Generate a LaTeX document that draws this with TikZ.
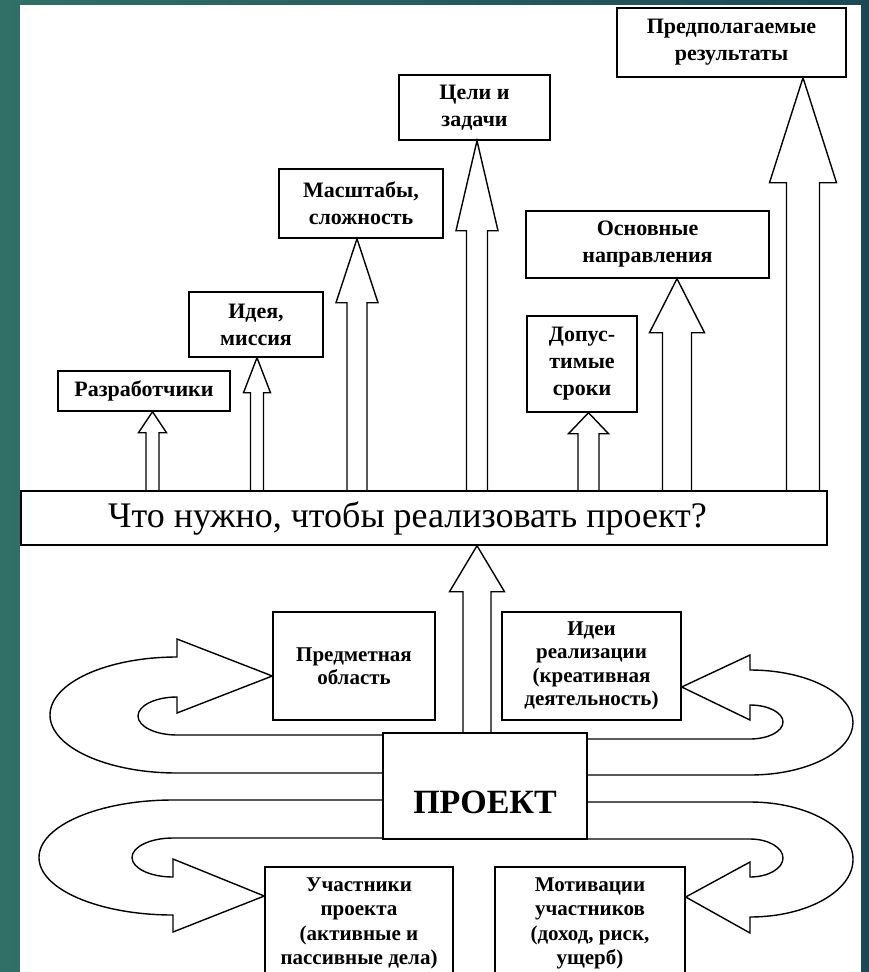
\documentclass[tikz,border=0pt]{standalone}
\usepackage{fontspec}
\setmainfont{Liberation Serif}
\usepackage{xcolor}
\usepackage{tikz}
\usetikzlibrary{calc}
\definecolor{slideleft}{RGB}{48,112,103}
\definecolor{slideright}{RGB}{27,72,86}
\tikzset{
    goalbox/.style={rectangle, draw=black, line width=1.4pt, fill=white, align=center, inner sep=2pt, font=\fontsize{22}{27}\selectfont\bfseries},
    infobox/.style={rectangle, draw=black, line width=1.4pt, fill=white, align=center, inner sep=2pt, font=\fontsize{21}{23.5}\selectfont\bfseries},
    hollow/.style={draw=black, line width=1.4pt, line join=miter}
}
\newcommand{\blockarr}[6]{%
  \path (#3,0 |- #1.north) coordinate (ab) (#3,0 |- #2.south) coordinate (at);
  \draw[hollow] ($(ab)+(-#4,0)$) -- ($(at)+(-#4,#6)$) -- ($(at)+(-#5,#6)$) -- (at)
    -- ($(at)+(#5,#6)$) -- ($(at)+(#4,#6)$) -- ($(ab)+(#4,0)$);
}

\begin{document}
\begin{tikzpicture}[x=1pt, y=-1pt,
  bar/.style={rectangle, draw=black, line width=1.4pt, fill=white, minimum width=806, minimum height=54, font=\fontsize{36}{40}\selectfont},
  projbox/.style={rectangle, draw=black, line width=1.4pt, fill=white, minimum width=204, minimum height=106, text height=55pt, text depth=0pt, font=\fontsize{34}{40}\selectfont\bfseries}]
  \useasboundingbox (0,0) rectangle (869,972);
  \fill[left color=slideleft, right color=slideright] (0,0) rectangle (869,972);
  \fill[white] (20,5) rectangle (861,972);

  \node[goalbox, minimum width=172, minimum height=40] (dev) at (144,391) {Разработчики};
  \node[goalbox, minimum width=134, minimum height=65] (idea) at (256,324.5) {Идея,\\миссия};
  \node[goalbox, minimum width=164, minimum height=69] (scale) at (361,203.5) {Масштабы,\\сложность};
  \node[goalbox, minimum width=151, minimum height=65] (goals) at (474.5,107.5) {Цели и\\задачи};
  \node[goalbox, minimum width=110, minimum height=96] (terms) at (582,364) {Допус-\\тимые\\сроки};
  \node[goalbox, minimum width=243, minimum height=67] (dirs) at (647.5,244.5) {Основные\\направления};
  \node[goalbox, minimum width=229, minimum height=69] (results) at (731.5,42.5) {Предполагаемые\\результаты};
  \node[bar] (ask) at (424,518) {Что нужно, чтобы реализовать проект?\hspace*{33pt}};
  \node[infobox, minimum width=162, minimum height=108] (subj) at (354,666) {Предметная\\область};
  \node[infobox, minimum width=179, minimum height=108] (ideas) at (591.5,666) {Идеи\\реализации\\(креативная\\деятельность)};
  \node[projbox] (proj) at (485,786) {ПРОЕКТ};
  \node[infobox, font=\fontsize{21}{24.5}\selectfont\bfseries, minimum width=188, minimum height=113] (part) at (359,923.5) {Участники\\проекта\\(активные и\\пассивные дела)};
  \node[infobox, font=\fontsize{21}{24.5}\selectfont\bfseries, minimum width=190, minimum height=113] (motiv) at (590,923.5) {Мотивации\\участников\\(доход, риск,\\ущерб)};

  \blockarr{ask}{dev}{152.5}{6.5}{14}{21}
  \blockarr{ask}{idea}{257}{6.5}{13.5}{35}
  \blockarr{ask}{scale}{357}{10}{21}{64}
  \blockarr{ask}{goals}{477}{10.5}{21}{90}
  \blockarr{ask}{terms}{588.5}{10.5}{20}{21}
  \blockarr{ask}{dirs}{677}{14.5}{27.5}{54}
  \blockarr{ask}{results}{803}{16.5}{33.5}{105}
  \blockarr{proj}{ask}{477}{14}{27.5}{46}

  \draw[hollow] (proj.west |- 0,773) -- (177,773)
    arc[start angle=90, end angle=270, x radius=127, y radius=58]
    -- (177,639) -- (subj.west |- 0,676) -- (177,713) -- (177,697)
    arc[start angle=270, end angle=90, x radius=39, y radius=19]
    -- (proj.west |- 0,735);
  \draw[hollow] (proj.west |- 0,800) -- (173,800)
    arc[start angle=270, end angle=90, x radius=134, y radius=57.5]
    -- (173,932) -- (part.west |- 0,896) -- (173,859) -- (173,877)
    arc[start angle=90, end angle=270, x radius=41, y radius=19.5]
    -- (proj.west |- 0,838);
  \draw[hollow] (proj.east |- 0,775) -- (750,775)
    arc[start angle=90, end angle=-90, x radius=103, y radius=52.5]
    -- (750,655) -- (ideas.east |- 0,687) -- (750,720) -- (750,705)
    arc[start angle=-90, end angle=90, x radius=33, y radius=17]
    -- (proj.east |- 0,739);
  \draw[hollow] (proj.east |- 0,802) -- (750,802)
    arc[start angle=-90, end angle=90, x radius=103, y radius=57.5]
    -- (750,933) -- (motiv.east |- 0,897) -- (750,862) -- (750,877)
    arc[start angle=90, end angle=-90, x radius=33, y radius=19]
    -- (proj.east |- 0,839);
\end{tikzpicture}
\end{document}
